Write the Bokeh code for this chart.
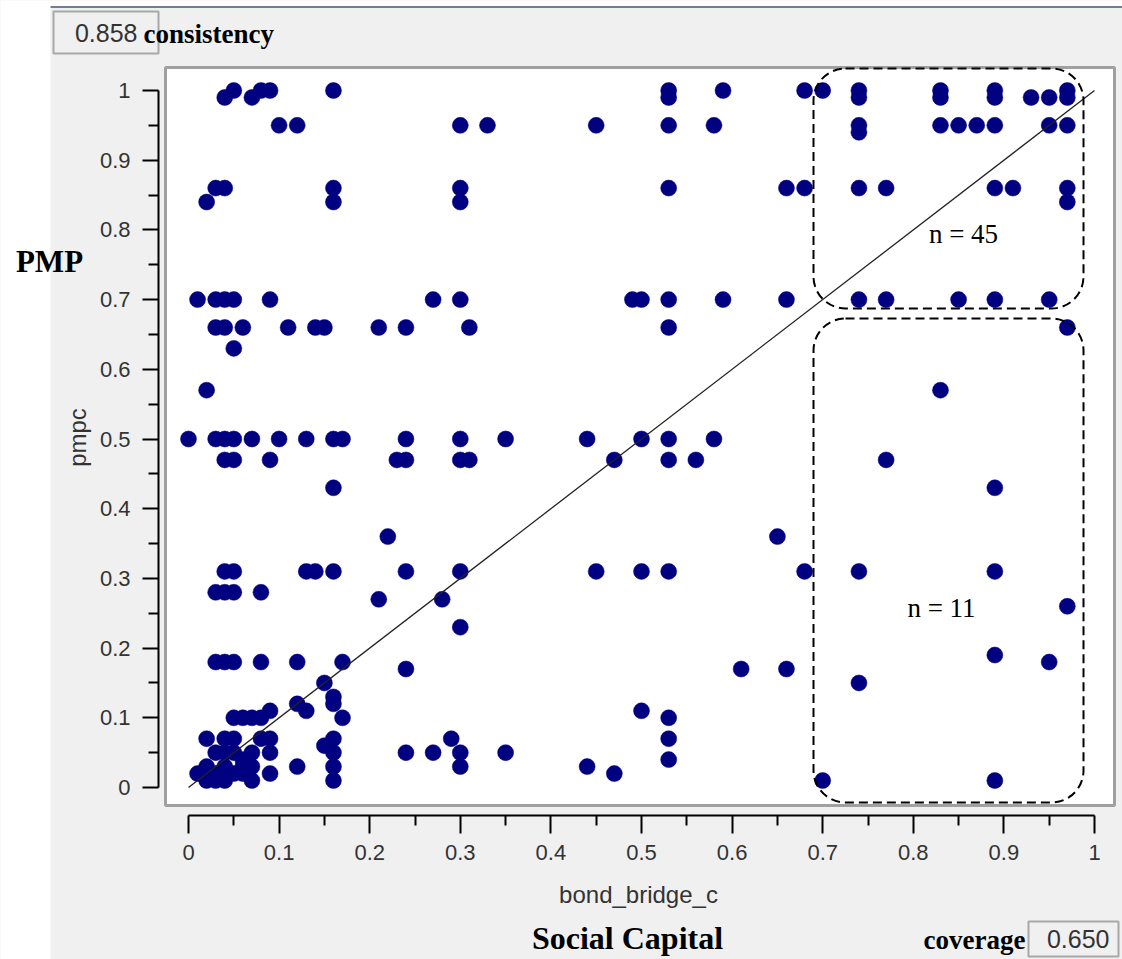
from math import pi
from bokeh.plotting import figure
from bokeh.models import Range1d, LinearAxis, FixedTicker, BoxAnnotation, Label, ColumnDataSource
from bokeh.embed import file_html
from bokeh.resources import INLINE

# ---------------- data ----------------
bond_bridge_c = [
    # pmpc ~ 1.0 / 0.99
    0.04, 0.05, 0.07, 0.08, 0.09, 0.16, 0.53, 0.53, 0.59, 0.68, 0.70, 0.74, 0.74,
    0.83, 0.83, 0.89, 0.89, 0.93, 0.95, 0.97, 0.97,
    # ~0.95
    0.10, 0.12, 0.30, 0.33, 0.45, 0.53, 0.58, 0.74, 0.74, 0.83, 0.85, 0.87, 0.89, 0.95, 0.97,
    # ~0.86 / 0.84
    0.03, 0.04, 0.16, 0.30, 0.53, 0.66, 0.68, 0.74, 0.77, 0.89, 0.91, 0.97,
    0.02, 0.16, 0.30, 0.97,
    # ~0.70
    0.01, 0.03, 0.04, 0.05, 0.09, 0.27, 0.30, 0.49, 0.50, 0.53, 0.59, 0.66, 0.74, 0.77, 0.85, 0.89, 0.95,
    # ~0.66 / 0.63 / 0.57
    0.03, 0.04, 0.06, 0.11, 0.14, 0.15, 0.21, 0.24, 0.31, 0.53, 0.97,
    0.05, 0.02, 0.83,
    # ~0.50
    0.00, 0.03, 0.04, 0.05, 0.07, 0.10, 0.13, 0.16, 0.17, 0.24, 0.30, 0.35, 0.44, 0.50, 0.53, 0.58,
    # ~0.47
    0.04, 0.05, 0.09, 0.23, 0.24, 0.30, 0.31, 0.47, 0.53, 0.56, 0.77,
    # 0.43 / 0.36
    0.16, 0.89, 0.22, 0.65,
    # ~0.31
    0.04, 0.05, 0.13, 0.14, 0.16, 0.24, 0.30, 0.45, 0.50, 0.53, 0.68, 0.74, 0.89,
    # ~0.28 / 0.27 / 0.26 / 0.23
    0.03, 0.04, 0.05, 0.08, 0.21, 0.28, 0.97, 0.30,
    # ~0.18 / 0.17 / 0.19 / 0.15
    0.03, 0.04, 0.05, 0.08, 0.12, 0.17, 0.95, 0.24, 0.61, 0.66, 0.89, 0.15, 0.74,
    # low cluster
    0.01, 0.02, 0.02, 0.03, 0.03, 0.04, 0.04, 0.05,
    0.03, 0.04, 0.04, 0.05, 0.05, 0.02, 0.05, 0.06, 0.07, 0.08, 0.09,
    0.06, 0.06, 0.07, 0.07, 0.07, 0.06, 0.08, 0.09, 0.09, 0.09,
    0.12, 0.13, 0.12, 0.15, 0.16, 0.16, 0.16, 0.16, 0.16, 0.16, 0.17,
    0.24, 0.27, 0.29, 0.30, 0.30,
    0.44, 0.47, 0.35, 0.50, 0.53, 0.53, 0.53,
    0.70, 0.89,
]
pmpc = [
    0.99, 1.00, 0.99, 1.00, 1.00, 1.00, 1.00, 0.99, 1.00, 1.00, 1.00, 1.00, 0.99,
    1.00, 0.99, 1.00, 0.99, 0.99, 0.99, 1.00, 0.99,
    0.95, 0.95, 0.95, 0.95, 0.95, 0.95, 0.95, 0.95, 0.94, 0.95, 0.95, 0.95, 0.95, 0.95, 0.95,
    0.86, 0.86, 0.86, 0.86, 0.86, 0.86, 0.86, 0.86, 0.86, 0.86, 0.86, 0.86,
    0.84, 0.84, 0.84, 0.84,
    0.70, 0.70, 0.70, 0.70, 0.70, 0.70, 0.70, 0.70, 0.70, 0.70, 0.70, 0.70, 0.70, 0.70, 0.70, 0.70, 0.70,
    0.66, 0.66, 0.66, 0.66, 0.66, 0.66, 0.66, 0.66, 0.66, 0.66, 0.66,
    0.63, 0.57, 0.57,
    0.50, 0.50, 0.50, 0.50, 0.50, 0.50, 0.50, 0.50, 0.50, 0.50, 0.50, 0.50, 0.50, 0.50, 0.50, 0.50,
    0.47, 0.47, 0.47, 0.47, 0.47, 0.47, 0.47, 0.47, 0.47, 0.47, 0.47,
    0.43, 0.43, 0.36, 0.36,
    0.31, 0.31, 0.31, 0.31, 0.31, 0.31, 0.31, 0.31, 0.31, 0.31, 0.31, 0.31, 0.31,
    0.28, 0.28, 0.28, 0.28, 0.27, 0.27, 0.26, 0.23,
    0.18, 0.18, 0.18, 0.18, 0.18, 0.18, 0.18, 0.17, 0.17, 0.17, 0.19, 0.15, 0.15,
    0.02, 0.01, 0.03, 0.01, 0.02, 0.01, 0.03, 0.02,
    0.05, 0.05, 0.07, 0.07, 0.05, 0.07, 0.10, 0.10, 0.10, 0.10, 0.11,
    0.04, 0.03, 0.05, 0.03, 0.01, 0.02, 0.07, 0.07, 0.05, 0.02,
    0.12, 0.11, 0.03, 0.06, 0.07, 0.05, 0.03, 0.01, 0.13, 0.12, 0.10,
    0.05, 0.05, 0.07, 0.05, 0.03,
    0.03, 0.02, 0.05, 0.11, 0.10, 0.07, 0.04,
    0.01, 0.01,
]
diagonal = [0.0, 1.0]
tick_values = [0.0, 0.1, 0.2, 0.3, 0.4, 0.5, 0.6, 0.7, 0.8, 0.9, 1.0]
tick_labels = ["0", "0.1", "0.2", "0.3", "0.4", "0.5", "0.6", "0.7", "0.8", "0.9", "1"]
consistency_value = "0.858"
coverage_value = "0.650"
n_upper = 45
n_lower = 11
x_label = "bond_bridge_c"
y_label = "pmpc"
x_title = "Social Capital"
y_title = "PMP"

# ---------------- layout helpers (screen px -> data) ----------------
X0, XS, Y0, YS = 188.0, 906.0, 787.0, 697.0


def sx(px):
    return (px - X0) / XS


def sy(py):
    return (Y0 - py) / YS


W, H = 1122, 959
p = figure(width=W, height=H, output_backend="svg", toolbar_location=None,
           x_axis_type=None, y_axis_type=None,
           x_range=Range1d(sx(0), sx(W)), y_range=Range1d(sy(H), sy(0)),
           min_border_left=0, min_border_right=0, min_border_top=0, min_border_bottom=0,
           background_fill_color="#f0f0f0", border_fill_color="white")
p.outline_line_color = None

SANS = "Liberation Sans"
SERIF = "Liberation Serif"


def box(l, r, t, b, **kw):
    kw.setdefault("level", "underlay")
    return BoxAnnotation(left=sx(l), right=sx(r), top=sy(t), bottom=sy(b), **kw)


# white margins around the grey dialog panel
p.add_layout(box(0, 50, 0, H, fill_color="white", fill_alpha=1, line_alpha=0))
p.add_layout(box(50, W, 0, 6, fill_color="white", fill_alpha=1, line_alpha=0))
p.add_layout(box(50, W, 5.5, 7.5, fill_color="#6f7f95", fill_alpha=1, line_alpha=0))
# white plotting panel
p.add_layout(box(165, 1114, 67, 805, fill_color="white", fill_alpha=1,
                 line_color="#a0a0a0", line_alpha=1, line_width=3))
# value fields
p.add_layout(box(53, 158, 11, 53, fill_color="#f0f0f0", fill_alpha=1,
                 line_color="#a8a8a8", line_alpha=1, line_width=2))
p.add_layout(box(1028, 1118, 921, 956, fill_color="#f0f0f0", fill_alpha=1,
                 line_color="#a8a8a8", line_alpha=1, line_width=2))

src = ColumnDataSource(dict(x=bond_bridge_c, y=pmpc))
p.scatter("x", "y", source=src, size=16, fill_color="#000080", line_color="#000080",
          line_width=0.5)
p.line(diagonal, diagonal, line_color="#222222", line_width=1.3)

# dashed rounded groups
for top, bottom in ((68, 308), (318, 802)):
    p.add_layout(box(813, 1083, top, bottom, level="annotation", fill_alpha=0,
                     line_color="black", line_alpha=1, line_width=2,
                     line_dash="9 5", border_radius=32))

minor = [round((a + b) / 2, 3) for a, b in zip(tick_values[:-1], tick_values[1:])]
overrides = dict(zip(tick_values, tick_labels))


def style_axis(ax, standoff):
    ax.ticker = FixedTicker(ticks=tick_values, minor_ticks=minor)
    ax.major_label_overrides = overrides
    ax.bounds = (0, 1)
    ax.axis_line_color = "black"
    ax.axis_line_width = 2
    ax.major_tick_line_color = "black"
    ax.major_tick_line_width = 2
    ax.minor_tick_line_color = "black"
    ax.minor_tick_line_width = 2
    ax.major_tick_in = 0
    ax.minor_tick_in = 0
    ax.major_label_text_font = SANS
    ax.major_label_text_font_size = "22px"
    ax.major_label_text_color = "#333333"
    ax.major_label_standoff = standoff


yaxis = LinearAxis(fixed_location=sx(158))
style_axis(yaxis, 12)
yaxis.major_tick_out = 16
yaxis.minor_tick_out = 10
p.add_layout(yaxis, "left")

xaxis = LinearAxis(fixed_location=sy(815))
style_axis(xaxis, 11)
xaxis.major_tick_out = 18
xaxis.minor_tick_out = 10
p.add_layout(xaxis, "below")

labels = [
    Label(x=sx(638), y=sy(894), text=x_label, text_font=SANS, text_font_size="24px",
          text_color="#333333", text_align="center", text_baseline="middle"),
    Label(x=sx(77), y=sy(437), text=y_label, text_font=SANS, text_font_size="24px",
          text_color="#333333", text_align="center", text_baseline="middle", angle=pi / 2),
    Label(x=sx(627), y=sy(937), text=x_title, text_font=SERIF, text_font_size="32px",
          text_font_style="bold", text_color="black", text_align="center", text_baseline="middle"),
    Label(x=sx(49), y=sy(261), text=y_title, text_font=SERIF, text_font_size="31px",
          text_font_style="bold", text_color="black", text_align="center", text_baseline="middle"),
    Label(x=sx(137), y=sy(32), text=consistency_value, text_font=SANS, text_font_size="25px",
          text_color="#333333", text_align="right", text_baseline="middle"),
    Label(x=sx(143), y=sy(33), text="consistency", text_font=SERIF, text_font_size="27px",
          text_font_style="bold", text_color="black", text_align="left", text_baseline="middle"),
    Label(x=sx(1025), y=sy(939), text="coverage", text_font=SERIF, text_font_size="27px",
          text_font_style="bold", text_color="black", text_align="right", text_baseline="middle"),
    Label(x=sx(1109), y=sy(938), text=coverage_value, text_font=SANS, text_font_size="25px",
          text_color="#333333", text_align="right", text_baseline="middle"),
    Label(x=sx(963), y=sy(233), text=f"n = {n_upper}", text_font=SERIF, text_font_size="27px",
          text_color="black", text_align="center", text_baseline="middle"),
    Label(x=sx(941), y=sy(607), text=f"n = {n_lower}", text_font=SERIF, text_font_size="27px",
          text_color="black", text_align="center", text_baseline="middle"),
]
for lb in labels:
    p.add_layout(lb)

open("out.html", "w").write(file_html(p, INLINE))
